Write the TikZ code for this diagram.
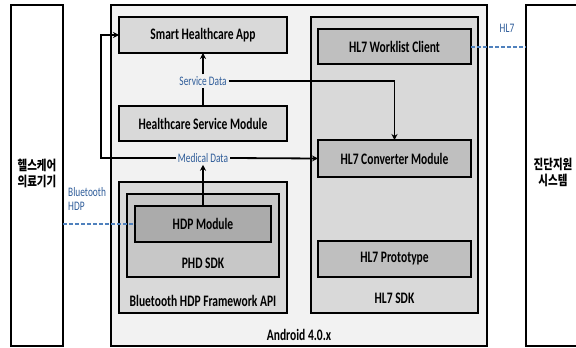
\documentclass[tikz,border=0pt]{standalone}
\usepackage{fontspec}
\setmainfont{Carlito}[FakeStretch=0.72]
\newfontfamily\krfont{Noto Sans CJK KR}[FakeStretch=0.78]
\usetikzlibrary{arrows.meta}
\definecolor{lbl}{HTML}{2E5C99}
\definecolor{dashc}{HTML}{4F81BD}
\begin{document}
\begin{tikzpicture}[x=1pt,y=-1pt,
  box/.style={draw=black,line width=1.6pt,minimum width=#1,inner sep=0pt,outer sep=0pt},
  mod/.style={box=#1,font=\fontsize{16}{18}\selectfont\bfseries},
  title/.style={font=\fontsize{16}{18}\selectfont\bfseries,inner sep=0pt},
  tag/.style={font=\fontsize{13}{13}\selectfont,text=lbl,inner sep=2pt},
  kr/.style={font=\fontsize{13.5}{16}\selectfont\krfont\bfseries,align=center,inner sep=0pt},
  flow/.style={draw=black,line width=1.8pt},
  arr/.style={flow,-{Stealth[length=6pt,width=6pt]}},
  link/.style={draw=dashc,line width=2pt,dash pattern=on 4pt off 2pt}]
\useasboundingbox (0,0) rectangle (576,348);

% outer frames
\node[box=52pt,minimum height=341pt,fill=white] (dev) at (37,175.5) {};
\node[box=376pt,minimum height=341pt,fill=black!5] (android) at (299,175.5) {};
\node[box=60pt,minimum height=341pt,fill=white] (sys) at (556,175.5) {};
\node[kr] (devtxt) at (37,173) {헬스케어\\의료기기};
\node[kr] (systxt) at (553,172) {진단지원\\시스템};
\node[title] (androidtxt) at (299,335) {Android 4.0.x};

% application side
\node[mod=168pt,minimum height=36pt,fill=black!15] (app) at (203,35) {Smart Healthcare App};
\node[mod=168pt,minimum height=35pt,fill=black!15] (hsm) at (203,123.5) {Healthcare Service Module};

% bluetooth stack
\node[box=168pt,minimum height=131pt,fill=black!15] (btapi) at (203,247.5) {};
\node[box=152pt,minimum height=83pt,fill=black!22] (phd) at (203,235.5) {};
\node[mod=136pt,minimum height=36pt,fill=black!33] (hdp) at (203,224) {HDP Module};
\node[title] (phdtxt) at (203,263) {PHD SDK};
\node[title] (bttxt) at (203,301) {Bluetooth HDP Framework API};

% HL7 stack
\node[box=167pt,minimum height=296pt,fill=black!15] (hl7sdk) at (394.5,165) {};
\node[mod=153pt,minimum height=35pt,fill=black!25] (worklist) at (394.5,46.5) {HL7 Worklist Client};
\node[mod=153pt,minimum height=37pt,fill=black!25] (conv) at (394.5,158.5) {HL7 Converter Module};
\node[mod=153pt,minimum height=36pt,fill=black!25] (proto) at (394.5,259) {HL7 Prototype};
\node[title] (hl7txt) at (394.5,298) {HL7 SDK};

% data labels
\node[tag] (svc) at (203,81) {Service Data};
\node[tag] (med) at (203,158) {Medical Data};
\node[tag,anchor=north west,align=left,inner sep=0pt,font=\fontsize{13}{14}\selectfont] (bt) at (68,187) {Bluetooth\\HDP};
\node[tag] (hl7) at (507,28) {HL7};

% data flow
\coordinate (turnL) at (101,158);
\coordinate (turnLtop) at (101,35);
\coordinate (turnR) at (394.5,81);
\draw[flow] (hsm.north) -- (svc.south);
\draw[arr] (svc.north) -- (app.south);
\draw[flow] (svc.east) -- (turnR);
\draw[arr] (turnR) -- (conv.north);
\draw[arr] (hdp.north) -- (med.south);
\draw[arr] (med.west) -- (turnL) -- (turnLtop) -- (app.west);
\draw[arr] (med.east) -- (conv.west);

% external links
\draw[link] (dev.east |- hdp.west) -- (hdp.west);
\draw[link] (worklist.east) -- (sys.west |- worklist.east);
\end{tikzpicture}
\end{document}
